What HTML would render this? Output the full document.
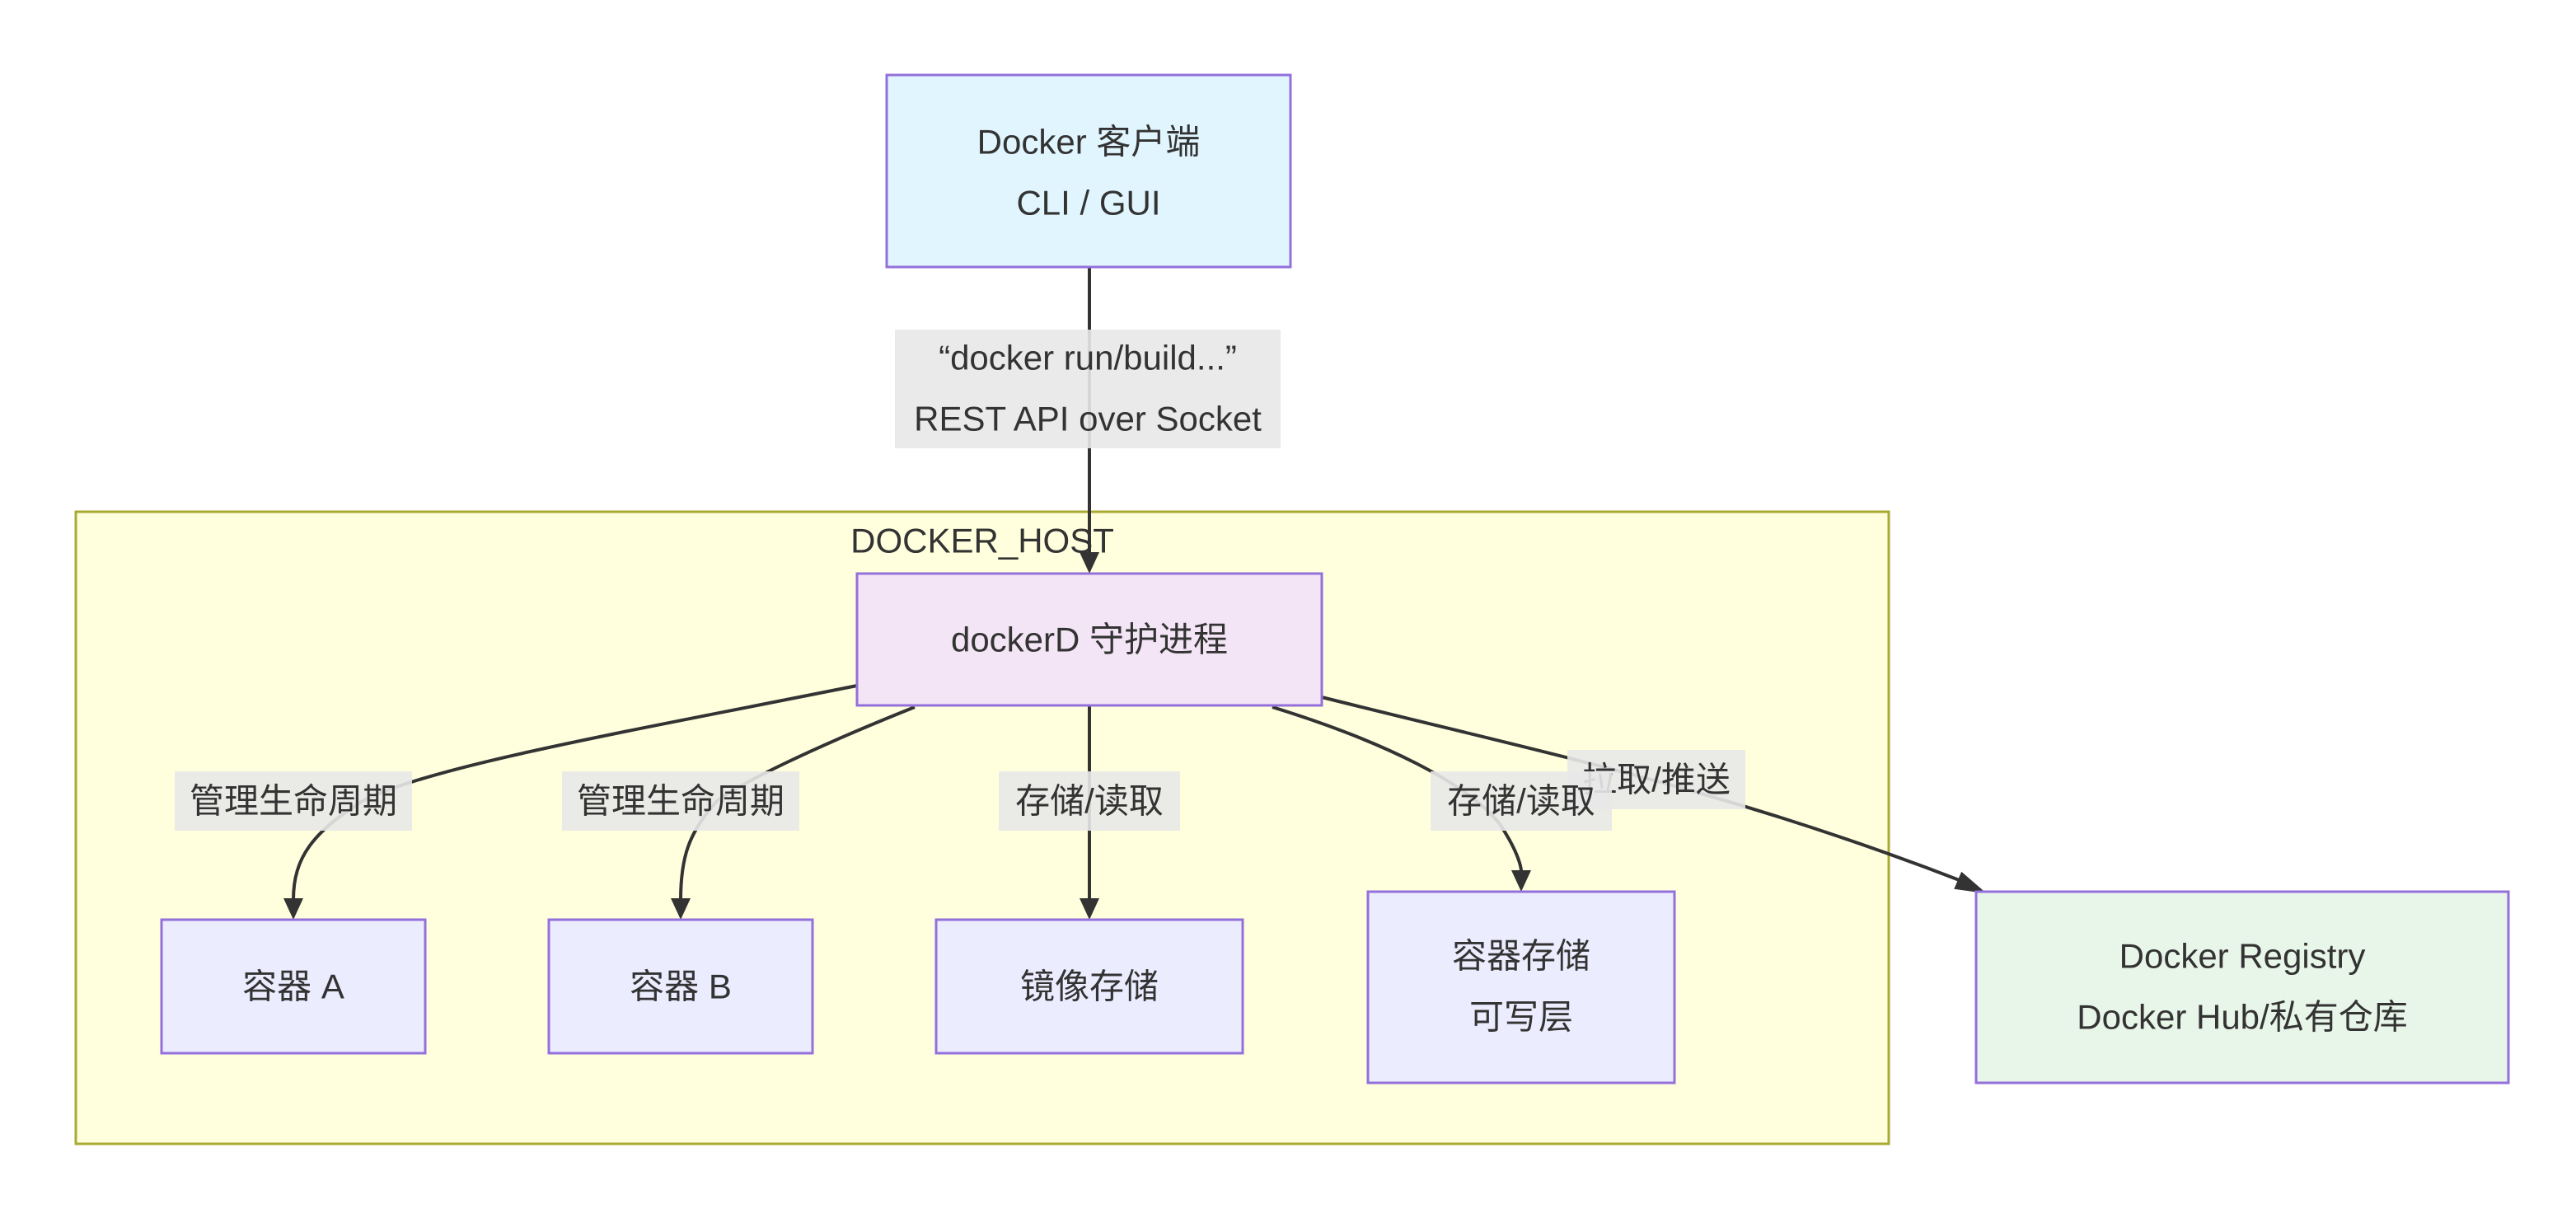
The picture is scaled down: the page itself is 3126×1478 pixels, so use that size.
<!DOCTYPE html>
<html><head><meta charset="utf-8"><style>
html,body{margin:0;padding:0;background:#fff;}
svg{display:block;}
text{font-family:"Liberation Sans","Noto Sans CJK SC",sans-serif;fill:#333;font-size:42px;text-anchor:middle;dominant-baseline:central;}
</style></head><body>
<svg width="3126" height="1478" viewBox="0 0 3126 1478" xmlns="http://www.w3.org/2000/svg">
<defs>
<marker id="ah" viewBox="0 0 10 10" refX="9" refY="5" markerWidth="7" markerHeight="7" markerUnits="userSpaceOnUse" orient="auto" style="overflow:visible">
</marker>
</defs>
<!-- cluster -->
<rect x="92" y="621" width="2200" height="767" fill="#ffffde" stroke="#aaaa33" stroke-width="3"/>
<text x="1192" y="656">DOCKER_HOST</text>

<!-- edges -->
<g fill="none" stroke="#333" stroke-width="4">
<path d="M1322 324 L1322 672"/>
<path d="M1040 832 C760 888 520 930 440 972 C380 1010 356 1040 356 1092"/>
<path d="M1110 858 C980 910 900 950 870 972 C836 1010 826 1040 826 1092"/>
<path d="M1322 856 L1322 1092"/>
<path d="M1544 858 C1680 900 1780 950 1820 1000 C1840 1030 1846 1050 1846 1058"/>
<path d="M1604 846 C1900 920 2100 960 2388 1072"/>
</g>
<g fill="#333">
<polygon points="1310,670 1334,670 1322,696"/>
<polygon points="344,1090 368,1090 356,1116"/>
<polygon points="814,1090 838,1090 826,1116"/>
<polygon points="1310,1090 1334,1090 1322,1116"/>
<polygon points="1834,1056 1858,1056 1846,1082"/>
<polygon points="2378,1060 2412,1082 2372,1082" transform="rotate(8 2395 1075)"/>
</g>

<!-- edge labels -->
<rect x="1086" y="400" width="468" height="144" fill="#e8e8e8" opacity="0.9"/>
<text x="1320" y="434">“docker run/build...”</text>
<text x="1320" y="508">REST API over Socket</text>

<rect x="212" y="936" width="288" height="72" fill="#e8e8e8" opacity="0.9"/>
<text x="356" y="972">管理生命周期</text>
<rect x="682" y="936" width="288" height="72" fill="#e8e8e8" opacity="0.9"/>
<text x="826" y="972">管理生命周期</text>
<rect x="1212" y="936" width="220" height="72" fill="#e8e8e8" opacity="0.9"/>
<text x="1322" y="972">存储/读取</text>
<rect x="1902" y="910" width="216" height="72" fill="#e8e8e8" opacity="0.9"/>
<text x="2010" y="946">拉取/推送</text>
<rect x="1736" y="936" width="220" height="72" fill="#e8e8e8" opacity="0.9"/>
<text x="1846" y="972">存储/读取</text>

<!-- nodes -->
<rect x="1076" y="91" width="490" height="233" fill="#e1f5fe" stroke="#9370db" stroke-width="3"/>
<text x="1321" y="172">Docker 客户端</text>
<text x="1321" y="246">CLI / GUI</text>

<rect x="1040" y="696" width="564" height="160" fill="#f3e5f5" stroke="#9370db" stroke-width="3"/>
<text x="1322" y="776">dockerD 守护进程</text>

<rect x="196" y="1116" width="320" height="162" fill="#ececff" stroke="#9370db" stroke-width="3"/>
<text x="356" y="1197">容器 A</text>
<rect x="666" y="1116" width="320" height="162" fill="#ececff" stroke="#9370db" stroke-width="3"/>
<text x="826" y="1197">容器 B</text>
<rect x="1136" y="1116" width="372" height="162" fill="#ececff" stroke="#9370db" stroke-width="3"/>
<text x="1322" y="1197">镜像存储</text>
<rect x="1660" y="1082" width="372" height="232" fill="#ececff" stroke="#9370db" stroke-width="3"/>
<text x="1846" y="1160">容器存储</text>
<text x="1846" y="1234">可写层</text>

<rect x="2398" y="1082" width="646" height="232" fill="#e8f5e9" stroke="#9370db" stroke-width="3"/>
<text x="2721" y="1160">Docker Registry</text>
<text x="2721" y="1234">Docker Hub/私有仓库</text>
</svg>
</body></html>
